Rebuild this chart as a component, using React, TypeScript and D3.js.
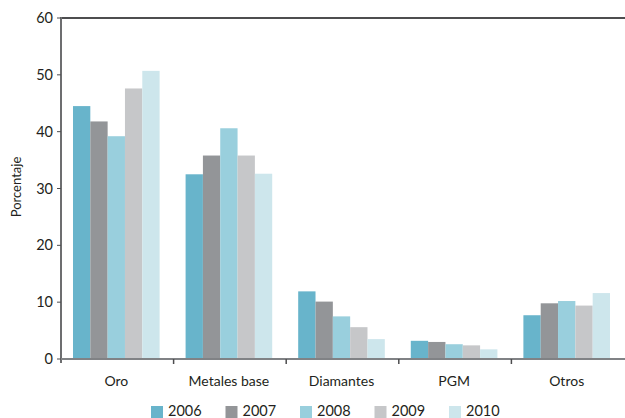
import React from "react";
import * as d3 from "d3";

const categories = ["Oro", "Metales base", "Diamantes", "PGM", "Otros"];
const years = ["2006", "2007", "2008", "2009", "2010"];
const values2006 = [44.5, 32.5, 11.9, 3.2, 7.7];
const values2007 = [41.8, 35.8, 10.1, 3.0, 9.8];
const values2008 = [39.2, 40.6, 7.5, 2.6, 10.2];
const values2009 = [47.6, 35.8, 5.6, 2.4, 9.4];
const values2010 = [50.7, 32.6, 3.5, 1.7, 11.6];
const seriesValues = [values2006, values2007, values2008, values2009, values2010];
const colors = ["#68b4cb", "#939598", "#99cfdd", "#c6c7c9", "#cde6ec"];
const yTicks = [0, 10, 20, 30, 40, 50, 60];

const W = 625;
const H = 418;
const margin = { left: 61, right: 1, top: 18, bottom: 59 };
const FONT = "'Lato', 'Open Sans', sans-serif";

export default function App() {
  const x = d3
    .scaleBand<string>()
    .domain(categories)
    .range([margin.left, W - margin.right])
    .paddingInner(0)
    .paddingOuter(0);
  const inner = d3
    .scaleBand<string>()
    .domain(years)
    .range([0, x.bandwidth()])
    .paddingInner(0)
    .paddingOuter(0.75);
  const y = d3
    .scaleLinear()
    .domain([0, 60])
    .range([H - margin.bottom, margin.top]);

  const x0 = margin.left;
  const x1 = W - margin.right;
  const yBase = y(0);

  return (
    <svg
      width={W}
      height={H}
      style={{ position: "absolute", left: 0, top: 0, background: "#fff" }}
      fontFamily={FONT}
    >
      {/* bars */}
      {categories.map((c, ci) => (
        <g key={c} transform={`translate(${(x(c) as number) - 1},0)`}>
          {years.map((yr, si) => {
            const v = seriesValues[si][ci];
            return (
              <rect
                key={yr}
                x={inner(yr)}
                y={y(v)}
                width={inner.bandwidth()}
                height={yBase - y(v)}
                fill={colors[si]}
              />
            );
          })}
        </g>
      ))}

      {/* frame lines */}
      <line x1={x0} x2={x1 + 1} y1={y(60)} y2={y(60)} stroke="#4d4d4f" strokeWidth={2} />
      <line x1={x0} x2={x0} y1={y(60) - 1} y2={yBase + 4} stroke="#6d6e70" strokeWidth={2} />
      <line x1={x0} x2={x1 + 1} y1={yBase} y2={yBase} stroke="#808285" strokeWidth={2} />

      {/* y ticks */}
      {yTicks.map((t) => (
        <g key={t}>
          <line x1={x0 - 4} x2={x0} y1={y(t)} y2={y(t)} stroke="#4d4d4f" strokeWidth={1} />
          <text
            x={x0 - 8}
            y={y(t)}
            dy="0.35em"
            textAnchor="end"
            fontSize={14.5}
            fill="#231f20"
          >
            {t}
          </text>
        </g>
      ))}

      {/* x category separators */}
      {categories.slice(1).map((c) => (
        <line
          key={c}
          x1={x(c)}
          x2={x(c)}
          y1={yBase}
          y2={yBase + 5}
          stroke="#4d4d4f"
          strokeWidth={1.5}
        />
      ))}

      {/* x labels */}
      {categories.map((c) => (
        <text
          key={c}
          x={(x(c) as number) + x.bandwidth() / 2 - 1}
          y={yBase + 27}
          textAnchor="middle"
          fontSize={14}
          fill="#231f20"
        >
          {c}
        </text>
      ))}

      {/* y axis title */}
      <text
        transform={`translate(21,187) rotate(-90)`}
        textAnchor="middle"
        fontSize={13}
        fill="#231f20"
      >
        Porcentaje
      </text>

      {/* legend */}
      {years.map((yr, i) => {
        const lx = 151 + i * 74.5;
        return (
          <g key={yr}>
            <rect x={lx} y={406} width={12} height={12} fill={colors[i]} />
            <text x={lx + 17} y={415.5} fontSize={14.5} fill="#231f20">
              {yr}
            </text>
          </g>
        );
      })}
    </svg>
  );
}
